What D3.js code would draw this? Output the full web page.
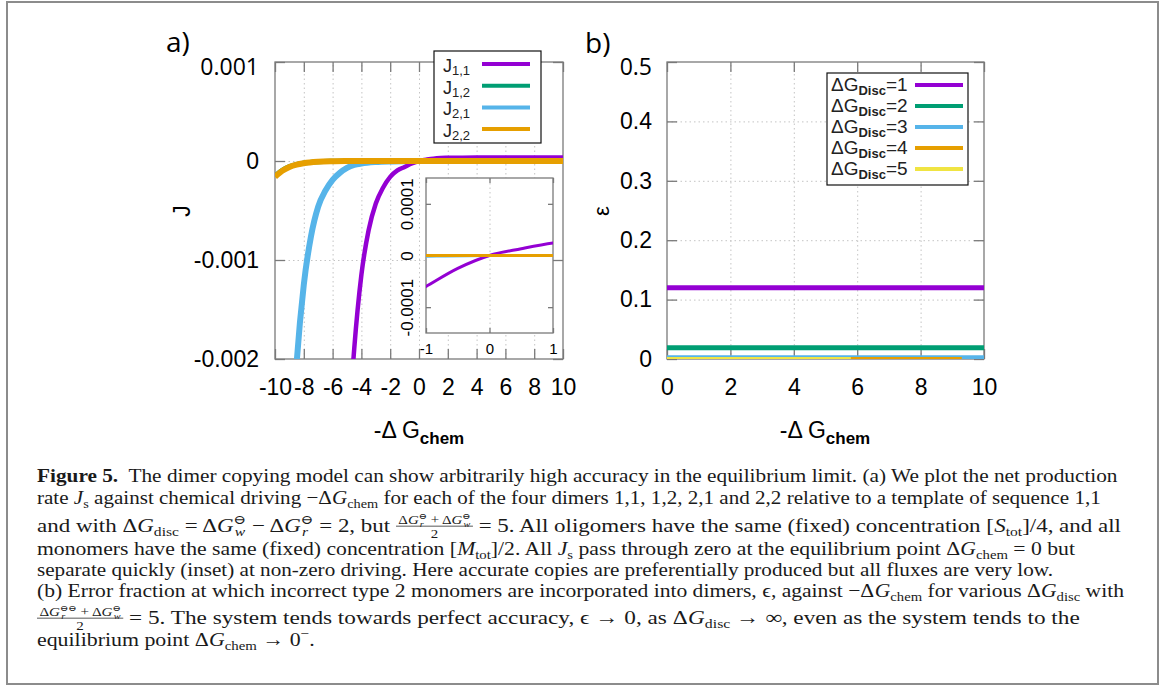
<!DOCTYPE html>
<html>
<head>
<meta charset="utf-8">
<script src="https://cdn.jsdelivr.net/npm/d3@7"></script>
<style>
  body { margin: 0; background: #fff; }
  svg { display: block; }
</style>
</head>
<body>
<div id="fig"></div>
<script>
// ---- panel a: net production rate J against -dG_chem ----
var seriesA = ["1,1", "1,2", "2,1", "2,2"];
var xTicksA = [-10, -8, -6, -4, -2, 0, 2, 4, 6, 8, 10];
var yTicksA = [0.001, 0, -0.001, -0.002];

var j11X = [-5, -4.5, -4, -3.5, -3, -2.5, -2, -1.5, -1, -0.5, 0, 0.5, 1, 1.5, 2, 3, 4, 6, 8, 10];
var j11Y = [-0.0030, -0.0019, -0.00115, -0.0007, -0.00043, -0.00027, -0.00016, -0.000095, -0.00006, -0.000025,
            0, 0.000013, 0.000024, 0.00003, 0.000032, 0.000034, 0.000035, 0.000035, 0.000035, 0.000035];
var j12X = [-10, -9.5, -9, -8.5, -8, -7, -6, -5, -4, -2, 0, 2, 4, 6, 8, 10];
var j12Y = [-0.00015, -0.000095, -0.000057, -0.000034, -0.000021, -0.0000075, -0.0000028, -0.000001, 0, 0, 0, 0, 0, 0, 0, 0];
var j21X = [-9, -8.5, -8, -7.5, -7, -6.5, -6, -5.5, -5, -4.5, -4, -3, -2, -1, 0, 2, 4, 6, 8, 10];
var j21Y = [-0.0034, -0.00205, -0.00125, -0.00076, -0.00046, -0.0003, -0.00019, -0.00012, -0.00007, -0.00004,
            -0.000025, -0.00001, -0.000004, -0.0000015, 0, 0, 0, 0, 0, 0];
var j22X = [-10, -9.5, -9, -8.5, -8, -7, -6, -5, -4, -2, 0, 2, 4, 6, 8, 10];
var j22Y = [-0.00016, -0.0001, -0.00006, -0.000036, -0.000022, -0.000008, -0.000003, -0.000001, 0, 0, 0, 0, 0, 0, 0, 0];

// inset ticks
var xTicksIn = [-1, 0, 1];
var yTicksIn = [-0.0001, 0, 0.0001];

// ---- panel b: error fraction eps against -dG_chem ----
var seriesB = [1, 2, 3, 4, 5];
var xTicksB = [0, 2, 4, 6, 8, 10];
var yTicksB = [0, 0.1, 0.2, 0.3, 0.4, 0.5];
var epsX = [0, 2, 4, 6, 8, 10];
var epsX4 = [0, 2, 4, 6, 8, 9.3];
var epsX5 = [0, 2, 4, 5.8];
var eps1 = [0.12, 0.12, 0.12, 0.12, 0.12, 0.12];
var eps2 = [0.019, 0.019, 0.019, 0.019, 0.019, 0.019];
var eps3 = [0.003, 0.003, 0.003, 0.003, 0.003, 0.003];
var eps4 = [0.0002, 0.0002, 0.0002, 0.0002, 0.0002, 0.0002];
var eps5 = [0, 0, 0, 0];

var colors = ["#9400d3", "#009e73", "#56b4e9", "#e69f00", "#f0e442"];
var SANS = "'Liberation Sans', Arial, sans-serif";
var SERIF = "'Liberation Serif', 'DejaVu Serif', serif";
var GRAY = "#7a7a7a";

var svg = d3.select("#fig").append("svg").attr("width", 1165).attr("height", 688);

svg.append("rect").attr("x", 7).attr("y", 2).attr("width", 1151).attr("height", 682)
  .attr("fill", "none").attr("stroke", "#8c8c8c").attr("stroke-width", 2);

// frame, grid, ticks and labels of one plot box
function drawBox(box, x, y, xt, yt, opt) {
  var g = svg.append("g").attr("font-family", SANS);
  var h = box.bottom - box.top, w = box.right - box.left;
  var grid = function (s) {
    s.select(".domain").remove();
    s.selectAll("line").attr("stroke", "#c4c4c4").attr("stroke-dasharray", "1.5,3");
  };
  g.append("g").attr("transform", "translate(0," + box.bottom + ")")
    .call(d3.axisBottom(x).tickValues(opt.xGrid).tickSize(-h).tickFormat(""))
    .call(grid);
  g.append("g").attr("transform", "translate(" + box.left + ",0)")
    .call(d3.axisLeft(y).tickValues(opt.yGrid).tickSize(-w).tickFormat(""))
    .call(grid);

  var tick = function (s) {
    s.select(".domain").remove();
    s.selectAll("line").attr("stroke", GRAY).attr("stroke-width", 1.3);
    s.selectAll("text").attr("fill", "#000").attr("font-size", opt.fs);
  };
  g.append("g").attr("class", "xax").attr("transform", "translate(0," + box.bottom + ")")
    .call(d3.axisBottom(x).tickValues(xt).tickSizeInner(-opt.tl).tickSizeOuter(0)
      .tickPadding(opt.xPad).tickFormat(function (d) { return String(d); }))
    .call(tick);
  g.append("g").attr("transform", "translate(0," + box.top + ")")
    .call(d3.axisTop(x).tickValues(xt).tickSizeInner(-opt.tl).tickSizeOuter(0).tickFormat(""))
    .call(tick);
  g.append("g").attr("class", "yax").attr("transform", "translate(" + box.left + ",0)")
    .call(d3.axisLeft(y).tickValues(yt).tickSizeInner(-opt.tl).tickSizeOuter(0)
      .tickPadding(opt.yPad).tickFormat(function (d) { return String(d); }))
    .call(tick);
  g.append("g").attr("transform", "translate(" + box.right + ",0)")
    .call(d3.axisRight(y).tickValues(yt).tickSizeInner(-opt.tl).tickSizeOuter(0).tickFormat(""))
    .call(tick);
  g.append("rect").attr("x", box.left).attr("y", box.top).attr("width", w).attr("height", h)
    .attr("fill", "none").attr("stroke", GRAY).attr("stroke-width", 1.3);
  return g;
}

function clipFor(id, box) {
  svg.append("clipPath").attr("id", id).append("rect")
    .attr("x", box.left).attr("y", box.top)
    .attr("width", box.right - box.left).attr("height", box.bottom - box.top);
  return "url(#" + id + ")";
}

// ================= panel a =================
var boxA = { left: 275, right: 563, top: 62, bottom: 359 };
var xA = d3.scaleLinear().domain([-10, 10]).range([boxA.left, boxA.right]);
var yA = d3.scaleLinear().domain([-0.002, 0.001]).range([boxA.bottom, boxA.top]);
var gA = drawBox(boxA, xA, yA, xTicksA, yTicksA,
  { xGrid: xTicksA.slice(1, -1), yGrid: [0, -0.001], tl: 10, fs: 23, xPad: 20, yPad: 16 });
gA.select(".yax").selectAll(".tick text").filter(function (d) { return d === 0.001; })
  .attr("font-family", "'Open Sans', sans-serif").attr("font-size", 23).attr("dy", "0.55em");

var jData = [[j11X, j11Y], [j12X, j12Y], [j21X, j21Y], [j22X, j22Y]];
var jWidth = [4.5, 5, 6, 6];
var lineA = d3.line().x(function (d) { return xA(d[0]); }).y(function (d) { return yA(d[1]); })
  .curve(d3.curveMonotoneX);
var clipA = clipFor("clipA", boxA);
svg.append("g").attr("clip-path", clipA).selectAll("path").data(jData).join("path")
  .attr("d", function (d) { return lineA(d3.zip(d[0], d[1])); })
  .attr("fill", "none").attr("stroke", function (d, i) { return colors[i]; })
  .attr("stroke-width", function (d, i) { return jWidth[i]; });

// inset
var boxI = { left: 426, right: 553, top: 178, bottom: 333 };
var xI = d3.scaleLinear().domain([-1, 1]).range([boxI.left, boxI.right]);
var yI = d3.scaleLinear().domain([-0.00015, 0.00015]).range([boxI.bottom, boxI.top]);
svg.append("rect").attr("x", boxI.left).attr("y", boxI.top)
  .attr("width", boxI.right - boxI.left).attr("height", boxI.bottom - boxI.top).attr("fill", "#fff");
var gI = drawBox(boxI, xI, yI, xTicksIn, yTicksIn,
  { xGrid: [0], yGrid: [], tl: 5, fs: 15, xPad: 10, yPad: 12 });
gI.select(".yax").selectAll(".tick text")
  .attr("x", null).attr("dy", null).attr("text-anchor", "middle").attr("font-size", 17)
  .attr("transform", "translate(-13,0) rotate(-90)");
var lineI = d3.line().x(function (d) { return xI(d[0]); }).y(function (d) { return yI(d[1]); })
  .curve(d3.curveMonotoneX);
var clipI = clipFor("clipI", boxI);
svg.append("g").attr("clip-path", clipI).selectAll("path").data(jData).join("path")
  .attr("d", function (d) { return lineI(d3.zip(d[0], d[1])); })
  .attr("fill", "none").attr("stroke", function (d, i) { return colors[i]; })
  .attr("stroke-width", 3);

// legend a
var legA = svg.append("g").attr("font-family", SANS);
legA.append("rect").attr("x", 434).attr("y", 51).attr("width", 107).attr("height", 92)
  .attr("fill", "#fff").attr("stroke", "#111").attr("stroke-width", 1.2);
seriesA.forEach(function (s, i) {
  var yy = 72 + i * 21.7;
  var t = legA.append("text").attr("x", 443).attr("y", yy).attr("font-size", 18).attr("fill", "#222");
  t.append("tspan").text("J");
  t.append("tspan").attr("dy", 3).attr("font-size", 13).text(s);
  legA.append("line").attr("x1", 482).attr("x2", 530).attr("y1", yy - 8).attr("y2", yy - 8)
    .attr("stroke", colors[i]).attr("stroke-width", 4);
});

// labels a
svg.append("text").attr("x", 166).attr("y", 52).attr("font-family", "'Open Sans', sans-serif")
  .attr("font-size", 28).text("a)");
svg.append("text").attr("transform", "translate(190,211) rotate(-90)").attr("text-anchor", "middle")
  .attr("font-family", SANS).attr("font-size", 23).text("J");

function xTitle(cx) {
  var t = svg.append("text").attr("x", cx).attr("y", 438).attr("text-anchor", "middle")
    .attr("font-family", SANS).attr("font-size", 23);
  t.append("tspan").text("-Δ G");
  t.append("tspan").attr("dy", 6).attr("font-size", 17).attr("font-weight", "bold").text("chem");
}
xTitle(419);

// ================= panel b =================
var boxB = { left: 667, right: 984, top: 62, bottom: 359 };
var xB = d3.scaleLinear().domain([0, 10]).range([boxB.left, boxB.right]);
var yB = d3.scaleLinear().domain([0, 0.5]).range([boxB.bottom, boxB.top]);
var gB = drawBox(boxB, xB, yB, xTicksB, yTicksB,
  { xGrid: xTicksB.slice(1, -1), yGrid: yTicksB.slice(1, -1), tl: 10, fs: 23, xPad: 20, yPad: 15 });
gB.select(".yax").selectAll(".tick text").filter(function (d) { return d === 0.5; })
  .attr("font-family", "'Open Sans', sans-serif").attr("font-size", 23).attr("dy", "0.55em");

var eData = [[epsX, eps1], [epsX, eps2], [epsX, eps3], [epsX4, eps4], [epsX5, eps5]];
var eWidth = [5, 5, 4, 4, 4];
var lineB = d3.line().x(function (d) { return xB(d[0]); }).y(function (d) { return yB(d[1]); });
var clipB = clipFor("clipB", boxB);
svg.append("g").attr("clip-path", clipB).selectAll("path").data(eData).join("path")
  .attr("d", function (d) { return lineB(d3.zip(d[0], d[1])); })
  .attr("fill", "none").attr("stroke", function (d, i) { return colors[i]; })
  .attr("stroke-width", function (d, i) { return eWidth[i]; });

// legend b
var legB = svg.append("g").attr("font-family", SANS);
legB.append("rect").attr("x", 827).attr("y", 73).attr("width", 141).attr("height", 112)
  .attr("fill", "#fff").attr("stroke", "#111").attr("stroke-width", 1.2);
seriesB.forEach(function (s, i) {
  var yy = 91 + i * 21;
  var t = legB.append("text").attr("x", 831).attr("y", yy).attr("font-size", 19).attr("fill", "#222");
  t.append("tspan").text("ΔG");
  t.append("tspan").attr("dy", 4).attr("font-size", 13).attr("font-weight", "bold").text("Disc");
  t.append("tspan").attr("dy", -4).text("=" + s);
  legB.append("line").attr("x1", 915).attr("x2", 963).attr("y1", yy - 6).attr("y2", yy - 6)
    .attr("stroke", colors[i]).attr("stroke-width", 4);
});

svg.append("text").attr("x", 585).attr("y", 53).attr("font-family", "'Open Sans', sans-serif")
  .attr("font-size", 28).text("b)");
svg.append("text").attr("transform", "translate(609,211) rotate(-90)").attr("text-anchor", "middle")
  .attr("font-family", SANS).attr("font-size", 22).text("ε");
xTitle(825);

// ================= caption =================
var FS = 19.5;
function seg(g, kind, txt, fs, x, y) {
  var t = g.append("text").attr("x", x).attr("y", y).attr("font-size", fs)
    .style("white-space", "pre").text(txt);
  if (kind === "b") t.attr("font-weight", "bold");
  if (kind === "i") t.attr("font-style", "italic");
  return t.node().getComputedTextLength();
}
function runSegs(g, segs, fs, y) {
  var cx = 0;
  segs.forEach(function (s) {
    var k = s[0];
    if (k === "r" || k === "b" || k === "i") cx += seg(g, k, s[1], fs, cx, y);
    else if (k === "sub") cx += seg(g, "r", s[1], fs * 0.68, cx, y + fs * 0.18);
    else if (k === "sup") cx += seg(g, "r", s[1], fs * 0.7, cx, y - fs * 0.4);
    else if (k === "ss") {
      var w1 = seg(g, "i", s[1], fs * 0.68, cx + 1, y + fs * 0.22);
      var w2 = seg(g, "r", s[2], fs * 0.66, cx, y - fs * 0.4);
      cx += Math.max(w1 + 1, w2);
    } else if (k === "frac") {
      var ng = g.append("g"), dg = g.append("g");
      var nw = runSegs(ng, s[1], fs * 0.65, 0);
      var dw = runSegs(dg, s[2], fs * 0.65, 0);
      var w = Math.max(nw, dw) + 4;
      ng.attr("transform", "translate(" + (cx + (w - nw) / 2) + "," + (y - fs * 0.42) + ")");
      dg.attr("transform", "translate(" + (cx + (w - dw) / 2) + "," + (y + fs * 0.33) + ")");
      g.append("line").attr("x1", cx).attr("x2", cx + w)
        .attr("y1", y - fs * 0.3).attr("y2", y - fs * 0.3)
        .attr("stroke", "#222").attr("stroke-width", 0.9);
      cx += w;
    }
  });
  return cx;
}

var num3 = [["r", "Δ"], ["i", "G"], ["ss", "r", "⊖"], ["r", " + Δ"], ["i", "G"], ["ss", "w", "⊖"]];
var num7 = [["r", "Δ"], ["i", "G"], ["ss", "r", "⊖⊖"], ["r", " + Δ"], ["i", "G"], ["ss", "w", "⊖"]];
var capLines = [
  [["b", "Figure 5."], ["r", "  The dimer copying model can show arbitrarily high accuracy in the equilibrium limit. (a) We plot the net production"]],
  [["r", "rate "], ["i", "J"], ["sub", "s"], ["r", " against chemical driving −Δ"], ["i", "G"], ["sub", "chem"],
   ["r", " for each of the four dimers 1,1, 1,2, 2,1 and 2,2 relative to a template of sequence 1,1"]],
  [["r", "and with Δ"], ["i", "G"], ["sub", "disc"], ["r", " = Δ"], ["i", "G"], ["ss", "w", "⊖"], ["r", " − Δ"],
   ["i", "G"], ["ss", "r", "⊖"], ["r", " = 2, but "], ["frac", num3, [["r", "2"]]],
   ["r", " = 5. All oligomers have the same (fixed) concentration ["], ["i", "S"], ["sub", "tot"], ["r", "]/4, and all"]],
  [["r", "monomers have the same (fixed) concentration ["], ["i", "M"], ["sub", "tot"], ["r", "]/2. All "], ["i", "J"],
   ["sub", "s"], ["r", " pass through zero at the equilibrium point Δ"], ["i", "G"], ["sub", "chem"], ["r", " = 0 but"]],
  [["r", "separate quickly (inset) at non-zero driving. Here accurate copies are preferentially produced but all fluxes are very low."]],
  [["r", "(b) Error fraction at which incorrect type 2 monomers are incorporated into dimers, ϵ, against −Δ"], ["i", "G"],
   ["sub", "chem"], ["r", " for various Δ"], ["i", "G"], ["sub", "disc"], ["r", " with"]],
  [["frac", num7, [["r", "2"]]], ["r", " = 5. The system tends towards perfect accuracy, ϵ → 0, as Δ"], ["i", "G"],
   ["sub", "disc"], ["r", " → ∞, even as the system tends to the"]],
  [["r", "equilibrium point Δ"], ["i", "G"], ["sub", "chem"], ["r", " → 0"], ["sup", "−"], ["r", "."]]
];
var capBase = [482, 504, 532, 555, 576, 597, 624, 646];
var capEnd = [1118, 1101, 1121, 1075, 1054, 1124, 1080, null];
var capX = 37;

var cap = svg.append("g").attr("font-family", SERIF).attr("fill", "#1a1a1a");
var lineGs = [], scales = [];
capLines.forEach(function (segs, i) {
  var g = cap.append("g");
  var w = runSegs(g, segs, FS, 0);
  lineGs.push([g, w]);
  if (capEnd[i]) scales.push((capEnd[i] - capX) / w);
});
var meanScale = d3.mean(scales);
lineGs.forEach(function (p, i) {
  var s = capEnd[i] ? (capEnd[i] - capX) / p[1] : meanScale;
  p[0].attr("transform", "translate(" + capX + "," + capBase[i] + ") scale(" + s + ",1)");
});
</script>
</body>
</html>
